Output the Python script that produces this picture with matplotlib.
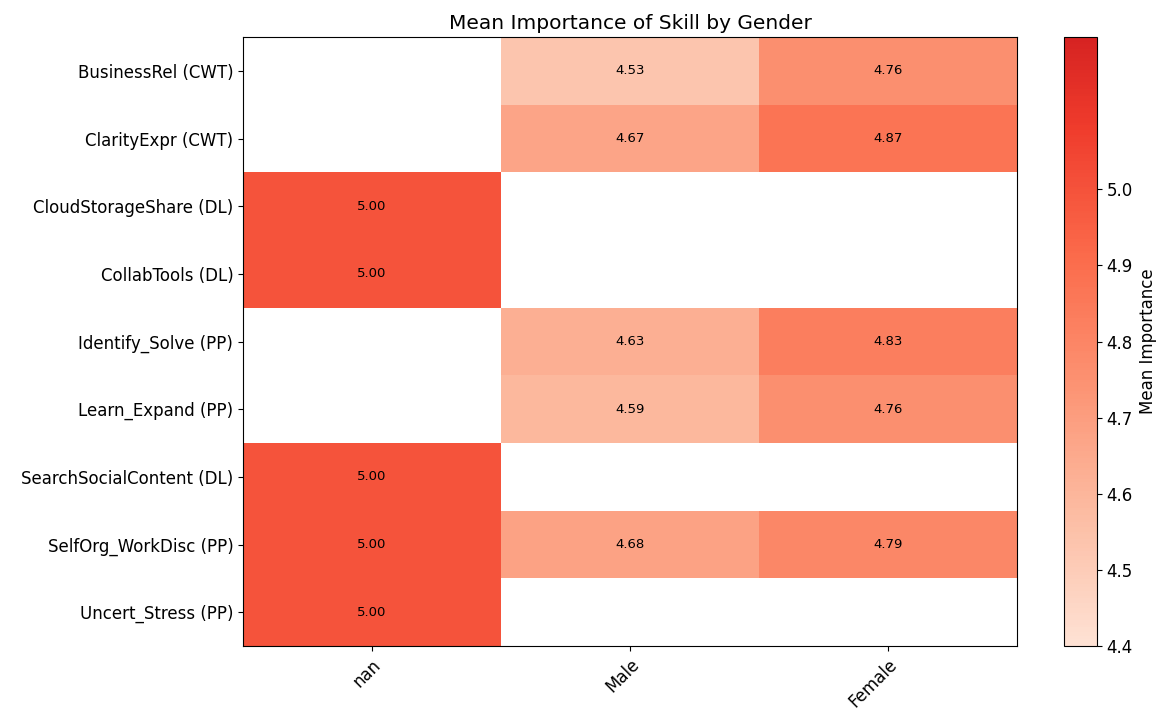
import numpy as np
import matplotlib
matplotlib.use("Agg")
import matplotlib.pyplot as plt
from matplotlib.colors import LinearSegmentedColormap

skills = ["BusinessRel (CWT)", "ClarityExpr (CWT)", "CloudStorageShare (DL)",
          "CollabTools (DL)", "Identify_Solve (PP)", "Learn_Expand (PP)",
          "SearchSocialContent (DL)", "SelfOrg_WorkDisc (PP)", "Uncert_Stress (PP)"]
genders = ["nan", "Male", "Female"]

nan_vals = [np.nan, np.nan, 5.00, 5.00, np.nan, np.nan, 5.00, 5.00, 5.00]
male_vals = [4.53, 4.67, np.nan, np.nan, 4.63, 4.59, np.nan, 4.68, np.nan]
female_vals = [4.76, 4.87, np.nan, np.nan, 4.83, 4.76, np.nan, 4.79, np.nan]

data = np.column_stack([nan_vals, male_vals, female_vals])
masked = np.ma.masked_invalid(data)

# lighter slice of Reds so the top end stays bright
cmap = LinearSegmentedColormap.from_list(
    "reds_cut", plt.cm.Reds(np.linspace(0.12, 0.71, 256)))
cmap.set_bad("white")

fig = plt.figure(figsize=(11.64, 7.11), dpi=100)
ax = fig.add_axes([243 / 1164, 1 - 646 / 711, (1017 - 243) / 1164, (646 - 37) / 711])
cax = fig.add_axes([1064 / 1164, 1 - 646 / 711, (1097 - 1064) / 1164, (646 - 37) / 711])

im = ax.imshow(masked, cmap=cmap, vmin=4.4, vmax=5.2, aspect="auto",
               interpolation="nearest")

for i in range(data.shape[0]):
    for j in range(data.shape[1]):
        if not np.isnan(data[i, j]):
            ax.text(j, i, f"{data[i, j]:.2f}", ha="center", va="center",
                    fontsize=9.5, color="black")

ax.set_xticks(range(len(genders)))
ax.set_xticklabels(genders, rotation=45, ha="right", fontsize=12,
                   rotation_mode="anchor")
ax.set_yticks(range(len(skills)))
ax.set_yticklabels(skills, fontsize=12)
ax.set_title("Mean Importance of Skill by Gender", fontsize=14.5)

cb = fig.colorbar(im, cax=cax)
cb.set_ticks([4.4, 4.5, 4.6, 4.7, 4.8, 4.9, 5.0])
cb.ax.tick_params(labelsize=12)
cb.set_label("Mean Importance", fontsize=12)

fig.savefig("out.png", dpi=100)
